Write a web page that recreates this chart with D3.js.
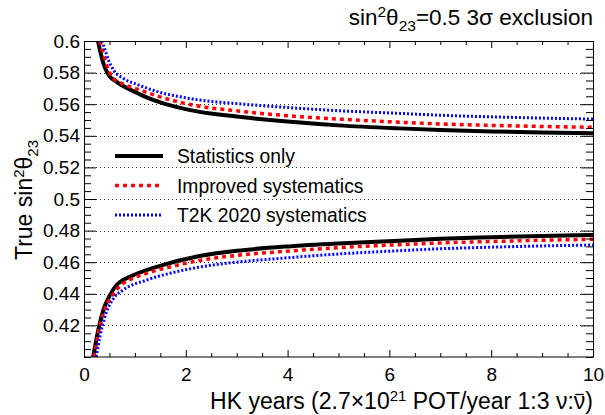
<!DOCTYPE html>
<html>
<head>
<meta charset="utf-8">
<script src="https://cdn.jsdelivr.net/npm/d3@7"></script>
<style>
  html, body { margin: 0; padding: 0; background: #fff; }
  svg { display: block; }
  text { font-family: "Liberation Sans", Arial, Helvetica, sans-serif; fill: #000; }
</style>
</head>
<body>
<svg id="chart" width="605" height="415"></svg>
<script>
// Exclusion contours, [HK years, true sin^2(theta23)]
const statUpper = [[0.275,0.600],[0.33,0.592],[0.38,0.586],[0.45,0.5805],[0.51,0.5774],[0.64,0.5742],[0.77,0.5715],[1.0,0.5678],[1.23,0.5643],[1.56,0.5605],[1.89,0.5577],[2.25,0.5553],[3,0.5522],[4,0.5490],[5,0.5466],[6.2,0.5447],[7,0.5437],[8,0.5428],[9,0.5421],[10,0.5416]];
const statLower = [[0.18,0.400],[0.28,0.417],[0.38,0.4297],[0.51,0.4392],[0.64,0.4456],[0.77,0.4487],[1.0,0.4522],[1.23,0.4550],[1.56,0.4583],[1.89,0.4612],[2.25,0.4638],[3,0.4672],[4,0.4700],[5,0.4719],[6.2,0.4736],[7,0.4748],[8,0.4758],[9,0.4766],[10,0.4772]];

const improvedUpper = [[0.31,0.600],[0.38,0.592],[0.48,0.5816],[0.58,0.5764],[0.77,0.5728],[1.07,0.5693],[1.56,0.5640],[1.89,0.5612],[2.25,0.5588],[3,0.5558],[4,0.5527],[5,0.5506],[6.2,0.5486],[7,0.5475],[8,0.5466],[9,0.5459],[10,0.5454]];
const improvedLower = [[0.20,0.400],[0.28,0.415],[0.38,0.4277],[0.54,0.4382],[0.77,0.4466],[1.0,0.4502],[1.23,0.4530],[1.69,0.4570],[2.25,0.4610],[3,0.4643],[4,0.4670],[5,0.4692],[6.2,0.4711],[7,0.4722],[8,0.4731],[9,0.4739],[10,0.4745]];

const t2kUpper = [[0.35,0.600],[0.38,0.5975],[0.48,0.5880],[0.58,0.5816],[0.77,0.5764],[1.07,0.5722],[1.56,0.5669],[1.89,0.5647],[2.25,0.5627],[3,0.5604],[4,0.5579],[5,0.5559],[6.2,0.5542],[7,0.5530],[8,0.5520],[9,0.5512],[10,0.5506]];
const t2kLower = [[0.24,0.400],[0.32,0.414],[0.41,0.4255],[0.58,0.4371],[0.77,0.4424],[1.23,0.4487],[1.69,0.4530],[2.25,0.4568],[3,0.4600],[4,0.4628],[5,0.4652],[6.2,0.4673],[7,0.4685],[8,0.4695],[9,0.4703],[10,0.4709]];

// Axis ticks and labels
const xTicks = [0, 2, 4, 6, 8, 10];
const xTickLabels = ["0", "2", "4", "6", "8", "10"];
const yTicks = [0.42, 0.44, 0.46, 0.48, 0.50, 0.52, 0.54, 0.56, 0.58, 0.60];
const yTickLabels = ["0.42", "0.44", "0.46", "0.48", "0.5", "0.52", "0.54", "0.56", "0.58", "0.6"];
const seriesNames = ["Statistics only", "Improved systematics", "T2K 2020 systematics"];

const W = 605, H = 415;
const m = { left: 84, right: 12, top: 41, bottom: 58 };
const iw = W - m.left - m.right, ih = H - m.top - m.bottom;

const svg = d3.select("#chart");
const g = svg.append("g").attr("transform", `translate(${m.left},${m.top})`);

const x = d3.scaleLinear().domain([0, 10]).range([0, iw]);
const y = d3.scaleLinear().domain([0.4, 0.6]).range([ih, 0]);

const xMinor = d3.range(0, 10.001, 0.5).filter(v => Math.abs(v / 2 - Math.round(v / 2)) > 1e-6);
const yMinor = d3.range(0, 41).map(i => 0.4 + i * 0.005).filter(v => !yTicks.some(t => Math.abs(t - v) < 1e-6));

// Horizontal dotted grid
g.append("g").selectAll("line")
  .data(yTicks.filter(v => v < 0.599))
  .join("line")
  .attr("x1", 0).attr("x2", iw)
  .attr("y1", d => Math.round(y(d)) + 0.5).attr("y2", d => Math.round(y(d)) + 0.5)
  .attr("stroke", "#333").attr("stroke-width", 1).attr("stroke-dasharray", "1,3");

// Contours
const clip = svg.append("defs").append("clipPath").attr("id", "plotclip");
clip.append("rect").attr("x", 0).attr("y", 0).attr("width", iw).attr("height", ih);

const line = d3.line().x(d => x(d[0])).y(d => y(d[1])).curve(d3.curveMonotoneX);
const curves = g.append("g").attr("clip-path", "url(#plotclip)");

const styles = [
  { color: "#000", width: 4, dash: null },
  { color: "#ff0000", width: 3.5, dash: "4,4" },
  { color: "#0000ff", width: 3, dash: "2,2" }
];
const series = [[statUpper, statLower], [improvedUpper, improvedLower], [t2kUpper, t2kLower]];
series.forEach((pair, i) => {
  pair.forEach(pts => {
    curves.append("path")
      .datum(pts)
      .attr("d", line)
      .attr("fill", "none")
      .attr("stroke", styles[i].color)
      .attr("stroke-width", styles[i].width)
      .attr("stroke-dasharray", styles[i].dash);
  });
});

// Axes with inward ticks on all four sides
function styleAxis(sel) {
  sel.select(".domain").remove();
  sel.selectAll(".tick line").attr("stroke", "#000").attr("stroke-width", 1);
}
const fmtX = d => xTickLabels[xTicks.indexOf(d)];
const fmtY = d => yTickLabels[yTicks.findIndex(t => Math.abs(t - d) < 1e-9)];

const gx = g.append("g").attr("transform", `translate(0,${ih})`)
  .call(d3.axisBottom(x).tickValues(xTicks).tickSize(-7).tickPadding(11).tickFormat(fmtX));
styleAxis(gx);
gx.selectAll("text").attr("font-size", 19).attr("fill", "#000").attr("font-family", "Liberation Sans, Arial, sans-serif");
g.append("g").attr("transform", `translate(0,${ih})`)
  .call(d3.axisBottom(x).tickValues(xMinor).tickSize(-4).tickFormat("")).call(styleAxis);
g.append("g")
  .call(d3.axisTop(x).tickValues(xTicks).tickSize(-7).tickFormat("")).call(styleAxis);
g.append("g")
  .call(d3.axisTop(x).tickValues(xMinor).tickSize(-4).tickFormat("")).call(styleAxis);

const gy = g.append("g")
  .call(d3.axisLeft(y).tickValues(yTicks).tickSize(-12).tickPadding(4).tickFormat(fmtY));
styleAxis(gy);
gy.selectAll("text").attr("font-size", 19).attr("fill", "#000").attr("font-family", "Liberation Sans, Arial, sans-serif");
g.append("g")
  .call(d3.axisLeft(y).tickValues(yMinor).tickSize(-7).tickFormat("")).call(styleAxis);
g.append("g").attr("transform", `translate(${iw},0)`)
  .call(d3.axisRight(y).tickValues(yTicks).tickSize(-12).tickFormat("")).call(styleAxis);
g.append("g").attr("transform", `translate(${iw},0)`)
  .call(d3.axisRight(y).tickValues(yMinor).tickSize(-7).tickFormat("")).call(styleAxis);

// Frame
g.append("rect").attr("x", 0.5).attr("y", 0.5).attr("width", iw).attr("height", ih - 0.5)
  .attr("fill", "none").attr("stroke", "#000").attr("stroke-width", 1);

// Legend
const leg = g.append("g").attr("transform", "translate(31,115)");
seriesNames.forEach((name, i) => {
  const row = leg.append("g").attr("transform", `translate(0,${i * 29.5})`);
  row.append("line").attr("x1", 0).attr("x2", 48).attr("y1", 0).attr("y2", 0)
    .attr("stroke", styles[i].color).attr("stroke-width", styles[i].width)
    .attr("stroke-dasharray", styles[i].dash);
  row.append("text").attr("x", 62).attr("y", 7).attr("font-size", 19.3).text(name);
});

// Title
const title = svg.append("text").attr("x", 593).attr("y", 25).attr("text-anchor", "end").attr("font-size", 22.5);
title.append("tspan").text("sin");
title.append("tspan").attr("font-size", 15.5).attr("dy", -8).text("2");
title.append("tspan").attr("dy", 8).text("θ");
title.append("tspan").attr("font-size", 15.5).attr("dy", 6).text("23");
title.append("tspan").attr("dy", -6).text("=0.5 3σ exclusion");

// X axis title; the antineutrino bar is drawn as a short line over its ν
const xtBase = 409;
const xt = svg.append("text").attr("x", 593).attr("y", xtBase).attr("text-anchor", "end").attr("font-size", 23);
const part1 = "HK years (2.7×10", part2 = "21", part3 = " POT/year 1:3 ν:";
xt.append("tspan").text(part1);
xt.append("tspan").attr("font-size", 15).attr("dy", -8).text(part2);
xt.append("tspan").attr("dy", 8).text(part3);
xt.append("tspan").text("ν");
xt.append("tspan").text(")");
const nuIdx = part1.length + part2.length + part3.length;
const ext = xt.node().getExtentOfChar(nuIdx);
svg.append("line")
  .attr("x1", ext.x + 1.5).attr("x2", ext.x + ext.width - 1.5)
  .attr("y1", xtBase - 14.5).attr("y2", xtBase - 14.5)
  .attr("stroke", "#000").attr("stroke-width", 1.3);

// Y axis title
const yt = svg.append("text").attr("transform", "translate(32,200) rotate(-90)")
  .attr("text-anchor", "middle").attr("font-size", 23);
yt.append("tspan").text("True sin");
yt.append("tspan").attr("font-size", 15).attr("dy", -8).text("2");
yt.append("tspan").attr("dy", 8).text("θ");
yt.append("tspan").attr("font-size", 15).attr("dy", 6).text("23");
</script>
</body>
</html>
